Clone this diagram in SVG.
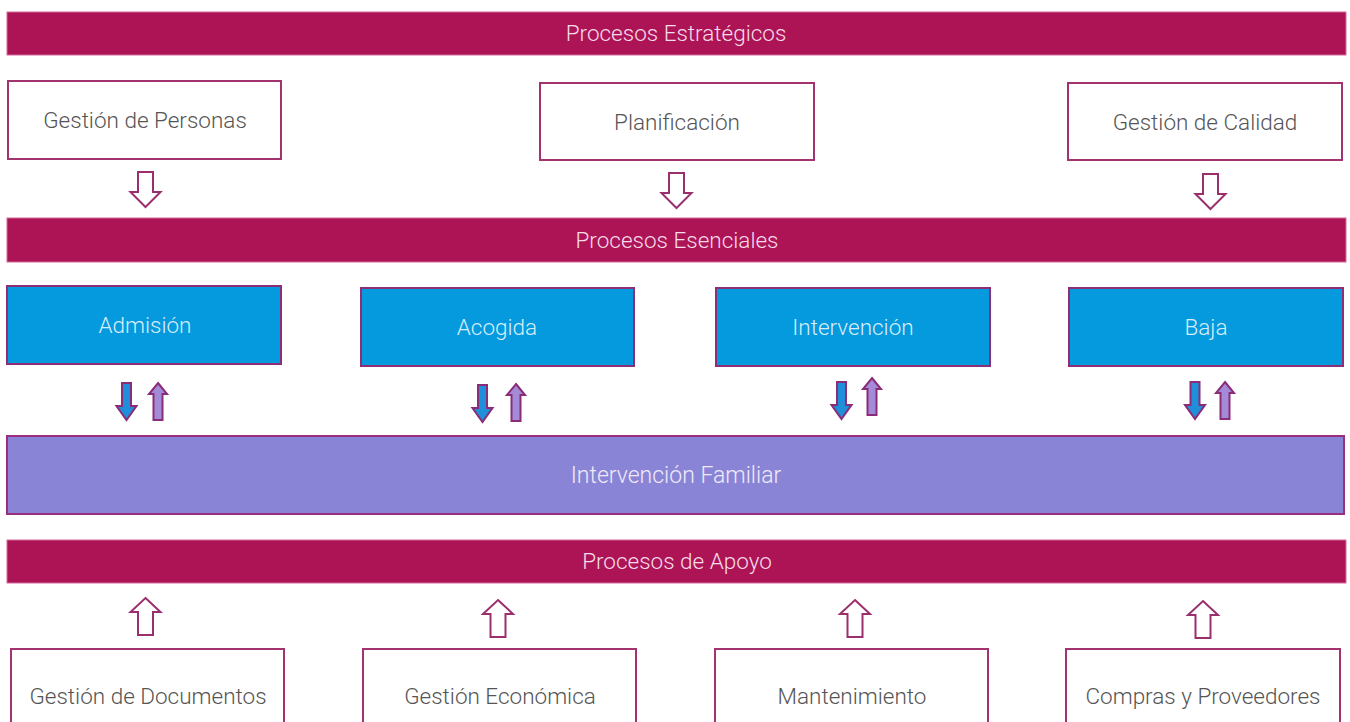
<svg xmlns="http://www.w3.org/2000/svg" width="1350" height="722" viewBox="0 0 1350 722">
<defs>
<style>
.bar{fill:#AC1456;stroke:#D56A9B;stroke-width:1}
.wbox{fill:#ffffff;stroke:#A3336E;stroke-width:2}
.bbox{fill:#0599DD;stroke:#8E2E78;stroke-width:2}
.pbox{fill:#8A84D6;stroke:#9A2F80;stroke-width:2}
.tbar{font-family:Roboto,"Liberation Sans",sans-serif;font-weight:300;font-size:22.5px;fill:#F6DCE9;text-anchor:middle}
.tw{font-family:Roboto,"Liberation Sans",sans-serif;font-weight:300;font-size:22.5px;fill:#555555;text-anchor:middle}
.tb{font-family:Roboto,"Liberation Sans",sans-serif;font-weight:300;font-size:22.5px;fill:#D6EEFA;text-anchor:middle}
.tp{font-family:Roboto,"Liberation Sans",sans-serif;font-weight:300;font-size:23px;fill:#EEEAF8;text-anchor:middle}
.hollow{fill:#ffffff;stroke:#9B2F6E;stroke-width:2;stroke-linejoin:miter}
.down{fill:#1E8FD8;stroke:#8A2C78;stroke-width:2}
.up{fill:#A48BD8;stroke:#8A2C78;stroke-width:2}
</style>
<path id="hdown" d="M-7.5,0 H7.5 V20 H15 L0,35 L-15,20 H-7.5 Z"/>
<path id="hup" d="M0,0 L15,14 H7.5 V37 H-7.5 V14 H-15 Z"/>
<path id="sdown" d="M-4.5,0 H4.5 V23 H10 L0,37 L-10,23 H-4.5 Z"/>
<path id="sup" d="M0,0 L9,11 H4.5 V37 H-4.5 V11 H-9 Z"/>
</defs>
<rect width="1350" height="722" fill="#ffffff"/>

<g id="bar-estrategicos">
<rect class="bar" x="7" y="12" width="1339" height="43"/>
<text class="tbar" x="676" y="41">Procesos Estratégicos</text>
</g>
<g id="gestion-personas">
<rect class="wbox" x="8" y="81" width="273" height="78"/>
<text class="tw" x="145" y="128">Gestión de Personas</text>
</g>
<g id="planificacion">
<rect class="wbox" x="540" y="83" width="274" height="77"/>
<text class="tw" x="677" y="130">Planificación</text>
</g>
<g id="gestion-calidad">
<rect class="wbox" x="1068" y="83" width="274" height="77"/>
<text class="tw" x="1205" y="130">Gestión de Calidad</text>
</g>

<g id="bar-esenciales">
<rect class="bar" x="7" y="218" width="1339" height="44"/>
<text class="tbar" x="677" y="248">Procesos Esenciales</text>
</g>
<g id="admision">
<rect class="bbox" x="7" y="286" width="274" height="78"/>
<text class="tb" x="145" y="333">Admisión</text>
</g>
<g id="acogida">
<rect class="bbox" x="361" y="288" width="273" height="78"/>
<text class="tb" x="497" y="335">Acogida</text>
</g>
<g id="intervencion">
<rect class="bbox" x="716" y="288" width="274" height="78"/>
<text class="tb" x="853" y="335">Intervención</text>
</g>
<g id="baja">
<rect class="bbox" x="1069" y="288" width="274" height="78"/>
<text class="tb" x="1206" y="335">Baja</text>
</g>

<g id="intervencion-familiar">
<rect class="pbox" x="7" y="436" width="1337" height="78"/>
<text class="tp" x="676" y="483">Intervención Familiar</text>
</g>

<g id="bar-apoyo">
<rect class="bar" x="7" y="540" width="1339" height="43"/>
<text class="tbar" x="677" y="569">Procesos de Apoyo</text>
</g>
<g id="gestion-documentos">
<rect class="wbox" x="11" y="649" width="273" height="90"/>
<text class="tw" x="148" y="704">Gestión de Documentos</text>
</g>
<g id="gestion-economica">
<rect class="wbox" x="363" y="649" width="273" height="90"/>
<text class="tw" x="500" y="704">Gestión Económica</text>
</g>
<g id="mantenimiento">
<rect class="wbox" x="715" y="649" width="273" height="90"/>
<text class="tw" x="852" y="704">Mantenimiento</text>
</g>
<g id="compras-proveedores">
<rect class="wbox" x="1066" y="649" width="274" height="90"/>
<text class="tw" x="1203" y="704">Compras y Proveedores</text>
</g>

<g id="connectors">
<use href="#hdown" class="hollow" transform="translate(145.5,172)"/>
<use href="#hdown" class="hollow" transform="translate(676.5,173)"/>
<use href="#hdown" class="hollow" transform="translate(1210.5,174)"/>

<use href="#sdown" class="down" transform="translate(126.5,383)"/>
<use href="#sup" class="up" transform="translate(158,383)"/>
<use href="#sdown" class="down" transform="translate(482.5,385)"/>
<use href="#sup" class="up" transform="translate(516,384)"/>
<use href="#sdown" class="down" transform="translate(841.5,382)"/>
<use href="#sup" class="up" transform="translate(872,378)"/>
<use href="#sdown" class="down" transform="translate(1195,382)"/>
<use href="#sup" class="up" transform="translate(1225,382)"/>

<use href="#hup" class="hollow" transform="translate(145.5,598)"/>
<use href="#hup" class="hollow" transform="translate(498,600)"/>
<use href="#hup" class="hollow" transform="translate(855,600)"/>
<use href="#hup" class="hollow" transform="translate(1203,601)"/>
</g>
</svg>
